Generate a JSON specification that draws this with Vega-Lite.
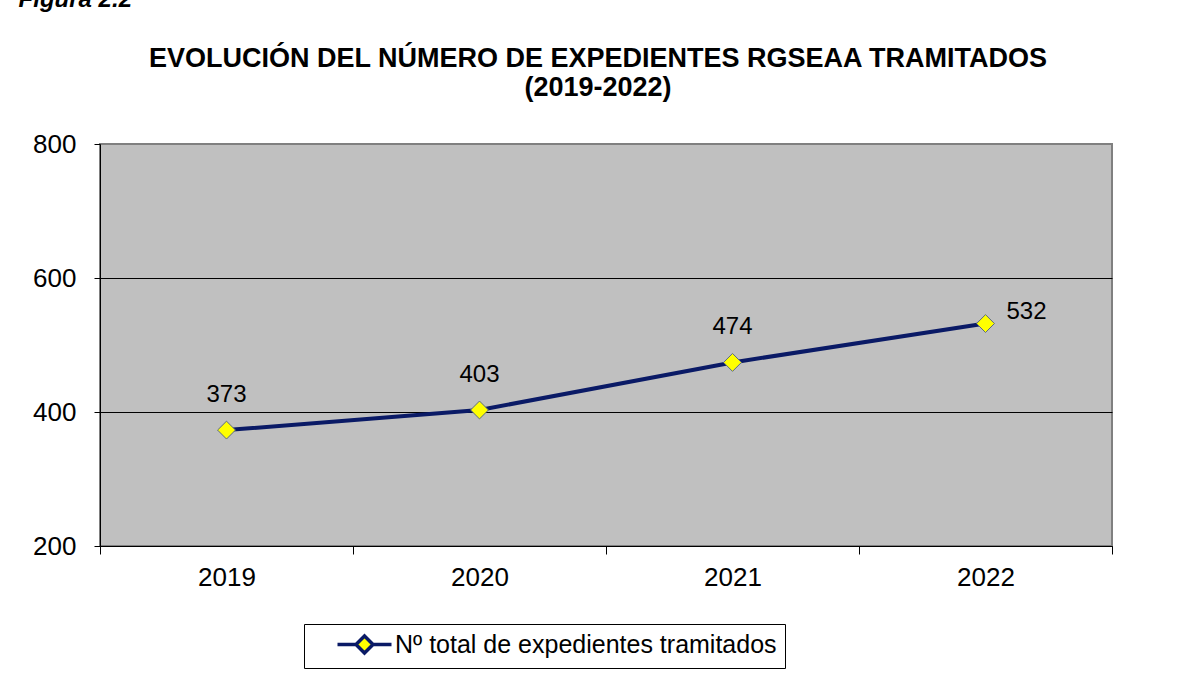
{
  "$schema": "https://vega.github.io/schema/vega-lite/v6.json",
  "padding": {"left": 18, "top": -12, "right": 5, "bottom": 5},
  "background": "white",
  "title": {"text": "Figura 2.2", "anchor": "start", "font": "Liberation Sans", "fontSize": 24, "fontWeight": "bold", "fontStyle": "italic", "color": "black", "offset": 32, "dx": -13, "frame": "bounds"},
  "config": {
    "font": "Liberation Sans",
    "view": {"fill": "#C0C0C0", "stroke": "#808080", "strokeWidth": 2}
  },
  "vconcat": [
    {
      "width": 1012,
      "height": 402,
      "title": {"text": ["EVOLUCIÓN  DEL NÚMERO DE EXPEDIENTES RGSEAA TRAMITADOS", "(2019-2022)"], "font": "Liberation Sans", "fontSize": 27, "fontWeight": "bold", "color": "black", "lineHeight": 29, "offset": 29, "anchor": "middle", "dx": -8},
      "data": {"values": [
        {"year": "2019", "value": 373, "series": "Nº total de expedientes tramitados"},
        {"year": "2020", "value": 403, "series": "Nº total de expedientes tramitados"},
        {"year": "2021", "value": 474, "series": "Nº total de expedientes tramitados"},
        {"year": "2022", "value": 532, "series": "Nº total de expedientes tramitados"}
      ]},
      "encoding": {
        "x": {"field": "year", "type": "nominal", "bandPosition": 0.5,
          "scale": {"type": "band", "paddingInner": 0, "paddingOuter": 0},
          "axis": {"title": null, "labelAngle": 0, "tickBand": "extent", "labelFontSize": 26, "labelColor": "black", "domainColor": "black", "domainWidth": 1, "tickColor": "black", "tickSize": 8, "labelPadding": 10, "grid": false}},
        "y": {"field": "value", "type": "quantitative",
          "scale": {"domain": [200, 800], "nice": false, "zero": false},
          "axis": {"title": null, "values": [200, 400, 600, 800], "grid": true, "gridColor": {"condition": {"test": "datum.value === 800", "value": "#808080"}, "value": "black"}, "gridOpacity": 1, "gridWidth": 1, "labelFontSize": 26, "labelColor": "black", "domainColor": "black", "tickColor": "black", "tickSize": 6, "labelPadding": 18}}
      },
      "layer": [
        {
          "mark": {"type": "line", "strokeWidth": 4},
          "encoding": {
            "color": {"field": "series", "type": "nominal",
              "scale": {"range": ["#0A1A66"]},
              "legend": {"title": null, "orient": "none", "legendX": 204, "legendY": 480, "strokeColor": "black", "padding": 8, "fillColor": "white",
                "symbolType": "M-2.7,0H-0.85M0.85,0H2.7M0,-0.85L0.85,0L0,0.85L-0.85,0Z", "symbolSize": 400, "symbolStrokeWidth": 3.5, "symbolOffset": 40, "labelOffset": 18,
                "labelFontSize": 25, "labelColor": "black", "labelLimit": 0,
                "encode": {"symbols": {"update": {"fill": {"value": "#FFFF00"}, "stroke": {"value": "#0A1A66"}, "strokeWidth": {"value": 3.5}, "opacity": {"value": 1}}}}}}
          }
        },
        {
          "mark": {"type": "point", "shape": "diamond", "filled": true, "fill": "#FFFF00", "stroke": "#5A6A80", "strokeWidth": 1, "size": 320, "opacity": 1}
        },
        {
          "transform": [{"filter": "datum.year !== '2022'"}],
          "mark": {"type": "text", "fontSize": 24, "color": "black", "baseline": "middle", "align": "center", "dy": -35},
          "encoding": {"text": {"field": "value", "type": "quantitative"}}
        },
        {
          "transform": [{"filter": "datum.year === '2022'"}],
          "mark": {"type": "text", "fontSize": 24, "color": "black", "baseline": "middle", "align": "left", "dx": 21, "dy": -12},
          "encoding": {"text": {"field": "value", "type": "quantitative"}}
        }
      ]
    }
  ]
}
